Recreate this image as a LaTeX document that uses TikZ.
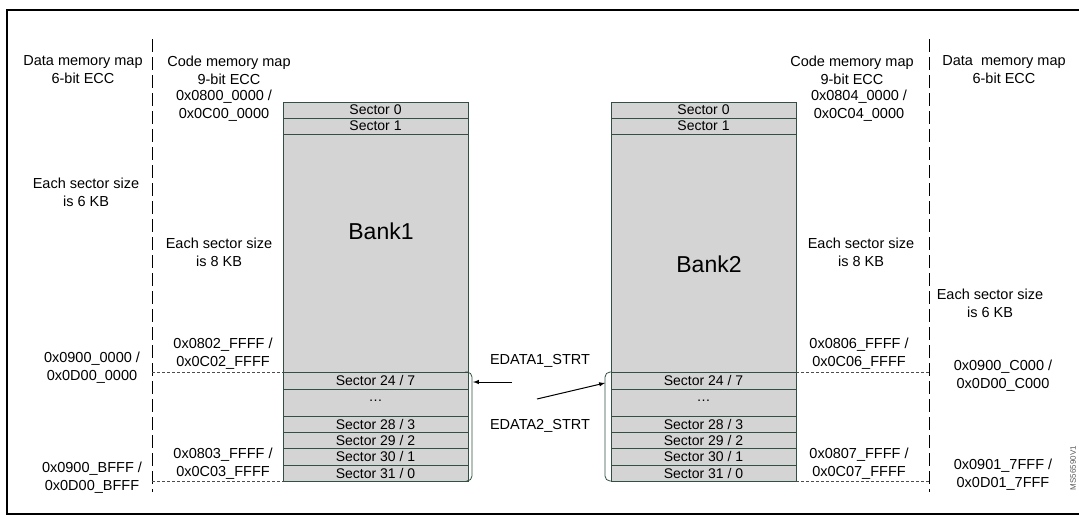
\documentclass[tikz,border=0pt]{standalone}
\usepackage{fontspec}
\setmainfont{Liberation Sans}
\begin{document}
\begin{tikzpicture}[x=1pt,y=-1pt,
  txt/.style={font=\fontsize{14.5}{18}\selectfont,align=center,inner sep=0pt},
  stx/.style={font=\fontsize{14}{16}\selectfont,inner sep=0pt},
  sec/.style={draw=boxc,fill=boxf,line width=0.8pt},
  dl/.style={dash pattern=on 3pt off 2pt,line width=0.6pt,gray!60!black},
  vdl/.style={dash pattern=on 13pt off 5pt,line width=0.7pt,black},
  ar/.style={-latex,line width=1pt}]
\definecolor{boxc}{RGB}{50,80,65}
\definecolor{boxf}{RGB}{212,212,212}
\useasboundingbox (0,0) rectangle (1079,515);
\draw[line width=1.2pt] (7,10) rectangle (1082,514);
% dashed vertical
\draw[vdl] (152,39) -- (152,492);
\draw[vdl] (929,39) -- (929,492);
% banks
\foreach \x in {283,611}{
 \draw[sec] (\x,102) rectangle (\x+185,481);
 \foreach \y in {118,134,372,389,416,432,448,465} \draw[boxc,line width=0.8pt] (\x,\y) -- (\x+185,\y);
 \node[stx] at (\x+92.5,110) {Sector 0};
 \node[stx] at (\x+92.5,126) {Sector 1};
 \node[stx] at (\x+92.5,380.5) {Sector 24 / 7};
 \node[stx] at (\x+92.5,401) {\dots};
 \node[stx] at (\x+92.5,424) {Sector 28 / 3};
 \node[stx] at (\x+92.5,440) {Sector 29 / 2};
 \node[stx] at (\x+92.5,456.5) {Sector 30 / 1};
 \node[stx] at (\x+92.5,473) {Sector 31 / 0};
}
\node[txt,font=\fontsize{23}{26}\selectfont] (b1) at (381,231) {Bank1};
\node[txt,font=\fontsize{23}{26}\selectfont] (b2) at (709,264) {Bank2};
% brackets
\draw[boxc,line width=0.8pt,rounded corners=5pt] (468,372) -- (472,372) -- (472,481) -- (468,481);
\draw[boxc,line width=0.8pt,rounded corners=5pt] (611,372) -- (605,372) -- (605,481) -- (611,481);
% dashed horizontals
\draw[dl] (152,372) -- (283,372);
\draw[dl] (152,481) -- (283,481);
\draw[dl] (796,372) -- (929,372);
\draw[dl] (796,481) -- (929,481);
% arrows
\node[txt] (e1) at (540,361) {EDATA1\_STRT};
\node[txt] (e2) at (540,426) {EDATA2\_STRT};
\coordinate (a1s) at (512,382);
\coordinate (a1e) at (473,382);
\coordinate (a2s) at (537,399);
\coordinate (a2e) at (605,383);
\draw[ar] (a1s) -- (a1e);
\draw[ar] (a2s) -- (a2e);
% texts left
\node[txt] at (83,70) {Data memory map\\6-bit ECC};
\node[txt] at (229,70) {Code memory map\\9-bit ECC};
\node[txt] at (224,106) {0x0800\_0000 /\\0x0C00\_0000};
\node[txt] at (86,192) {Each sector size\\is 6 KB};
\node[txt] at (219,252) {Each sector size\\is 8 KB};
\node[txt] at (223,354) {0x0802\_FFFF /\\0x0C02\_FFFF};
\node[txt] at (92,368) {0x0900\_0000 /\\0x0D00\_0000};
\node[txt] at (223,464) {0x0803\_FFFF /\\0x0C03\_FFFF};
\node[txt] at (92,478) {0x0900\_BFFF /\\0x0D00\_BFFF};
% texts right
\node[txt] at (852,70) {Code memory map\\9-bit ECC};
\node[txt] at (1004,70) {Data\ \ memory map\\6-bit ECC};
\node[txt] at (859,106) {0x0804\_0000 /\\0x0C04\_0000};
\node[txt] at (861,252) {Each sector size\\is 8 KB};
\node[txt] at (990,303) {Each sector size\\is 6 KB};
\node[txt] at (859,354) {0x0806\_FFFF /\\0x0C06\_FFFF};
\node[txt] at (1003,376) {0x0900\_C000 /\\0x0D00\_C000};
\node[txt] at (859,464) {0x0807\_FFFF /\\0x0C07\_FFFF};
\node[txt] at (1003,475) {0x0901\_7FFF /\\0x0D01\_7FFF};
\node[txt,font=\fontsize{8}{9}\selectfont,rotate=90,gray!70!black] at (1073,468) {MS56590V1};
\end{tikzpicture}
\end{document}
